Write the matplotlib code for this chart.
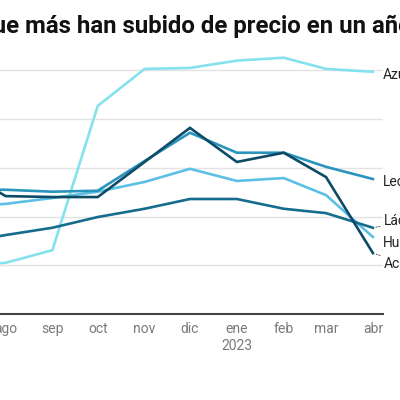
import matplotlib
matplotlib.use("Agg")
import matplotlib.pyplot as plt
from datetime import datetime, timedelta

# monthly data points (jul 2022 is just off the left edge of the crop)
dates = ["2022-07-01", "2022-08-01", "2022-09-01", "2022-10-01", "2022-11-01",
         "2022-12-01", "2023-01-01", "2023-02-01", "2023-03-01", "2023-04-01"]
tick_labels = ["ago", "sep", "oct", "nov", "dic", "ene\n2023", "feb", "mar", "abr"]

azucar = [10.0, 10.5, 13.1, 42.7, 50.3, 50.5, 52.0, 52.6, 50.3, 49.7]
aceite = [30.0, 24.2, 24.0, 24.0, 31.2, 38.2, 31.2, 33.1, 28.1, 12.5]
leche = [25.5, 25.5, 25.1, 25.3, 31.4, 37.2, 33.1, 33.1, 30.2, 27.7]
huevos = [22.0, 22.6, 23.8, 25.1, 27.1, 29.8, 27.3, 27.9, 24.4, 15.8]
lacteos = [14.5, 16.2, 17.7, 19.9, 21.6, 23.6, 23.6, 21.6, 20.7, 17.7]

series = [
    ("Azúcar", azucar, "#86e1ee", (7, -2), False),
    ("Huevos", huevos, "#5cc0e4", (7, -4), False),
    ("Leche", leche, "#2a94bc", (7, -2), False),
    ("Lácteos", lacteos, "#156c8c", (8, 5), True),
    ("Aceite", aceite, "#0d4b66", (8, -7.5), True),
]

title = "Los alimentos que más han subido de precio en un año"
title_fs = 17.3

x = [datetime.strptime(d, "%Y-%m-%d") for d in dates]

plt.rcParams["font.family"] = ["Roboto", "DejaVu Sans"]

fig = plt.figure(figsize=(4, 4), dpi=100)
fig.patch.set_facecolor("white")

ax = fig.add_axes([0, 0.215, 383 / 400, 0.67])
start = x[1] - timedelta(days=3.64)
ax.set_xlim(start, start + timedelta(days=383 / 1.512))
ax.set_ylim(0, 55)

for name, vals, col, off, leader in series:
    ax.plot(x, vals, color=col, lw=1.9, solid_joinstyle="miter", zorder=3)
    arrow = None
    if leader:
        arrow = dict(arrowstyle="-", linestyle=(0, (1, 1.5)), color="#666",
                     lw=0.8, shrinkA=1, shrinkB=2)
    ax.annotate(name, xy=(x[-1], vals[-1]), xytext=off, textcoords="offset points",
                ha="left", va="center", fontsize=10, color="#222",
                annotation_clip=False, arrowprops=arrow)

ax.set_yticks([10, 20, 30, 40, 50])
ax.yaxis.grid(True, color="#e3e3e3", lw=1)
ax.tick_params(axis="y", length=0, labelleft=False)
ax.set_axisbelow(True)

ax.set_xticks(x[1:])
ax.set_xticklabels(tick_labels)
ax.tick_params(axis="x", length=0, pad=6, colors="#7a7a7a", labelsize=10)

for s in ["top", "right", "left"]:
    ax.spines[s].set_visible(False)
ax.spines["bottom"].set_color("#444")
ax.spines["bottom"].set_linewidth(1.5)

# the title is cropped on both sides in the reference: put "más" at ~25 px
renderer = fig.canvas.get_renderer()
def text_width(s):
    t = fig.text(0, 0, s, fontsize=title_fs, fontweight="bold")
    w = t.get_window_extent(renderer).width
    t.remove()
    return w

x_mas = text_width("Los alimentos que m") - text_width("m")
fig.text((25 - x_mas) / 400, 1 - 33 / 400, title, fontsize=title_fs, fontweight="bold",
         color="#111", ha="left", va="baseline")

fig.savefig("out.png", dpi=100)
